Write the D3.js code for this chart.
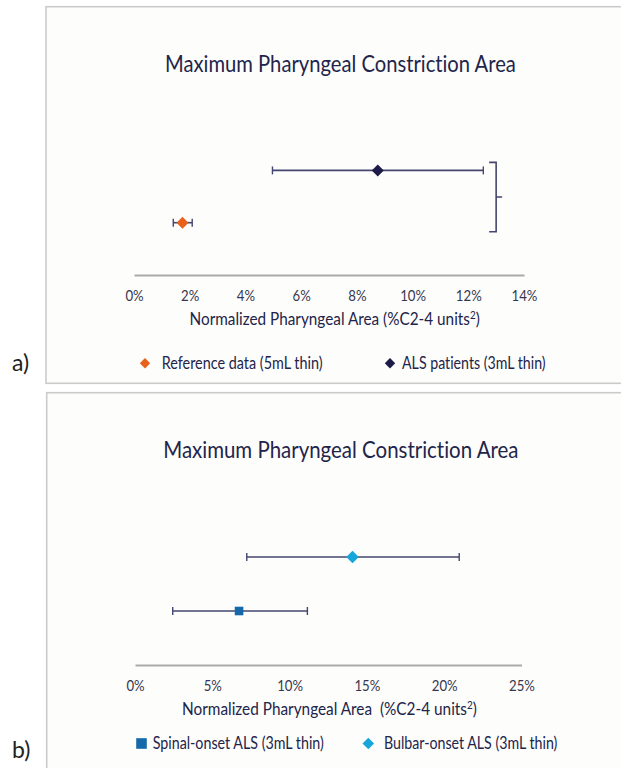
<!DOCTYPE html>
<html>
<head>
<meta charset="utf-8">
<script src="https://cdn.jsdelivr.net/npm/d3@7"></script>
<style>
html, body { margin: 0; padding: 0; background: #fff; }
svg { display: block; font-family: Lato, 'Open Sans', sans-serif; font-variant-ligatures: none; }
svg text { white-space: pre; }
</style>
</head>
<body>
<svg id="chart" width="621" height="768"></svg>
<script>
const chart_title = 'Maximum Pharyngeal Constriction Area'

// panel a) reference vs ALS
const a_categories = ['Reference data (5mL thin)', 'ALS patients (3mL thin)']
const a_means = [1.74, 8.75]
const a_lower = [1.41, 4.97]
const a_upper = [2.09, 12.54]
const a_ticks = [0, 2, 4, 6, 8, 10, 12, 14]
const a_bracket_at = 13

// panel b) spinal vs bulbar onset
const b_categories = ['Spinal-onset ALS (3mL thin)', 'Bulbar-onset ALS (3mL thin)']
const b_means = [6.73, 14.07]
const b_lower = [2.44, 7.23]
const b_upper = [11.15, 20.97]
const b_ticks = [0, 5, 10, 15, 20, 25]

const text_col = '#22244a'
const bar_col = '#44466f'

const svg = d3.select('#chart')

const diamond = r => `M0,${-r}L${r},0L0,${r}L${-r},0Z`
const square = r => `M${-r},${-r}H${r}V${r}H${-r}Z`

// squeeze a text group horizontally so it fits the wanted width
const fit = (g, left, baseline, target) => {
    const w = g.node().getBBox().width
    g.attr('transform', 'translate(' + left + ',' + baseline + ') scale(' + (target / w) + ',1)')
}

const draw_panel = (p) => {
    const root = svg.append('g')

    root.append('rect')
        .attr('x', p.box[0]).attr('y', p.box[1])
        .attr('width', p.box[2]).attr('height', p.box[3])
        .attr('fill', '#fdfdfb')
        .attr('stroke', '#cbcbcb')
        .attr('stroke-width', 1.6)

    root.append('text')
        .attr('x', 12).attr('y', p.label_y)
        .attr('font-size', 23)
        .attr('fill', '#222')
        .text(p.label)

    let tg = root.append('g')
    tg.append('text').attr('font-size', 23.5).attr('fill', text_col).text(chart_title)
    fit(tg, p.title_x[0], p.title_y, p.title_x[1] - p.title_x[0])

    const x = d3.scaleLinear().domain(d3.extent(p.ticks)).range(p.x_range)
    const y = d3.scaleLinear().domain([0, 1]).range([p.axis_y, p.axis_y - p.row_step])

    const axis = root.append('g')
        .attr('transform', 'translate(0,' + p.axis_y + ')')
        .call(d3.axisBottom(x).tickValues(p.ticks).tickSize(0).tickSizeOuter(0).tickPadding(15).tickFormat(d => d + '%'))
    axis.select('.domain').attr('stroke', '#aaaaaa').attr('stroke-width', 2)
    axis.selectAll('text')
        .attr('font-size', 15)
        .attr('font-family', 'Lato, sans-serif')
        .attr('fill', '#36374f')
        .attr('transform', 'scale(0.88,1)')

    tg = root.append('g')
    const at = tg.append('text').attr('font-size', 17).attr('fill', text_col)
    at.append('tspan').text(p.axis_title)
    at.append('tspan').attr('dy', -6).attr('font-size', 11).text('2')
    at.append('tspan').attr('dy', 6).text(')')
    fit(tg, p.axis_title_x[0], p.axis_y + 50, p.axis_title_x[1] - p.axis_title_x[0])

    const rows = p.categories.map((c, i) => ({
        name: c, mean: p.means[i], lo: p.lower[i], hi: p.upper[i], pos: i + 1,
        color: p.colors[i], shape: p.shapes[i], size: p.sizes[i]
    }))

    const bars = root.append('g')
    rows.forEach(r => {
        const yy = y(r.pos)
        bars.append('line')
            .attr('x1', x(r.lo)).attr('x2', x(r.hi))
            .attr('y1', yy).attr('y2', yy)
            .attr('stroke', bar_col).attr('stroke-width', 1.6)
        ;[r.lo, r.hi].forEach(v => {
            bars.append('line')
                .attr('x1', x(v)).attr('x2', x(v))
                .attr('y1', yy - 4).attr('y2', yy + 4)
                .attr('stroke', bar_col).attr('stroke-width', 1.4)
        })
        bars.append('path')
            .attr('transform', 'translate(' + x(r.mean) + ',' + yy + ')')
            .attr('d', r.shape(r.size))
            .attr('fill', r.color)
    })

    if (p.bracket_at != null) {
        const bx = x(p.bracket_at)
        const top = y(2) - 8, bot = y(1) + 9
        root.append('path')
            .attr('d', `M${bx - 7},${top}H${bx}V${bot}H${bx - 7}M${bx},${(top + bot) / 2}H${bx + 6}`)
            .attr('fill', 'none')
            .attr('stroke', bar_col)
            .attr('stroke-width', 1.6)
    }

    // legend
    rows.forEach((r, i) => {
        const lg = p.legend[i]
        root.append('path')
            .attr('transform', 'translate(' + lg.mx + ',' + p.legend_y + ')')
            .attr('d', r.shape(lg.ms))
            .attr('fill', r.color)
        const g = root.append('g')
        g.append('text').attr('font-size', 16.5).attr('fill', text_col).text(r.name)
        fit(g, lg.tx[0], p.legend_y + 5.5, lg.tx[1] - lg.tx[0])
    })
}

draw_panel({
    label: 'a)', label_y: 371,
    box: [46, 6.7, 620, 376.6],
    title_x: [165, 516], title_y: 71.5,
    ticks: a_ticks, x_range: [134, 524],
    axis_y: 275, row_step: 52.3,
    axis_title: 'Normalized Pharyngeal Area (%C2-4 units', axis_title_x: [189.5, 480],
    categories: a_categories, means: a_means, lower: a_lower, upper: a_upper,
    colors: ['#e8621c', '#1d1b48'], shapes: [diamond, diamond], sizes: [6, 6],
    bracket_at: a_bracket_at,
    legend_y: 363.3,
    legend: [{mx: 145, ms: 5.2, tx: [161.7, 322.8]}, {mx: 390, ms: 5.2, tx: [402, 545.7]}]
})

draw_panel({
    label: 'b)', label_y: 758,
    box: [46.7, 392.7, 620, 420],
    title_x: [163.2, 518.8], title_y: 457.5,
    ticks: b_ticks, x_range: [135, 521.5],
    axis_y: 665, row_step: 54,
    axis_title: 'Normalized Pharyngeal Area  (%C2-4 units', axis_title_x: [182, 477],
    categories: b_categories, means: b_means, lower: b_lower, upper: b_upper,
    colors: ['#1569aa', '#17a6dc'], shapes: [square, diamond], sizes: [4.3, 6.3],
    bracket_at: null,
    legend_y: 743.5,
    legend: [{mx: 141.5, ms: 5.3, tx: [152.7, 324]}, {mx: 368.3, ms: 5.8, tx: [384, 557.6]}]
})
</script>
</body>
</html>
